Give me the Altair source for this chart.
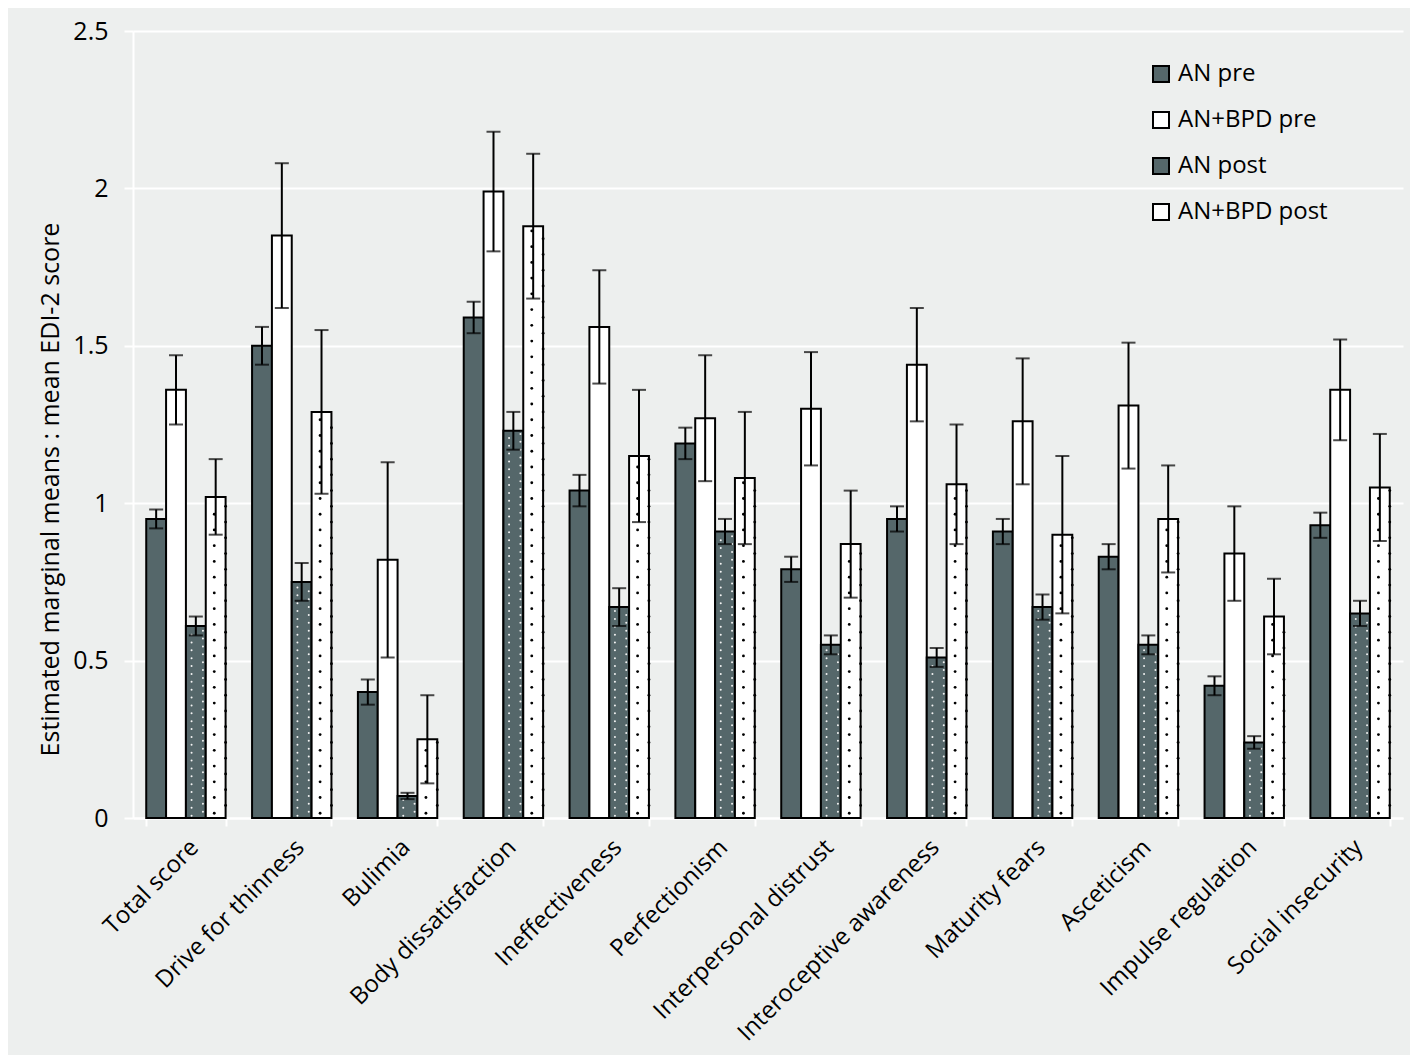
import altair as alt
import pandas as pd

categories = ["Total score", "Drive for thinness", "Bulimia", "Body dissatisfaction",
              "Ineffectiveness", "Perfectionism", "Interpersonal distrust",
              "Interoceptive awareness", "Maturity fears", "Asceticism",
              "Impulse regulation", "Social insecurity"]
series = ["AN pre", "AN+BPD pre", "AN post", "AN+BPD post"]

an_pre = [0.95, 1.50, 0.40, 1.59, 1.04, 1.19, 0.79, 0.95, 0.91, 0.83, 0.42, 0.93]
an_pre_lo = [0.92, 1.44, 0.36, 1.54, 0.99, 1.14, 0.75, 0.91, 0.87, 0.79, 0.39, 0.89]
an_pre_hi = [0.98, 1.56, 0.44, 1.64, 1.09, 1.24, 0.83, 0.99, 0.95, 0.87, 0.45, 0.97]

bpd_pre = [1.36, 1.85, 0.82, 1.99, 1.56, 1.27, 1.30, 1.44, 1.26, 1.31, 0.84, 1.36]
bpd_pre_lo = [1.25, 1.62, 0.51, 1.80, 1.38, 1.07, 1.12, 1.26, 1.06, 1.11, 0.69, 1.20]
bpd_pre_hi = [1.47, 2.08, 1.13, 2.18, 1.74, 1.47, 1.48, 1.62, 1.46, 1.51, 0.99, 1.52]

an_post = [0.61, 0.75, 0.07, 1.23, 0.67, 0.91, 0.55, 0.51, 0.67, 0.55, 0.24, 0.65]
an_post_lo = [0.58, 0.69, 0.06, 1.17, 0.61, 0.87, 0.52, 0.48, 0.63, 0.52, 0.22, 0.61]
an_post_hi = [0.64, 0.81, 0.08, 1.29, 0.73, 0.95, 0.58, 0.54, 0.71, 0.58, 0.26, 0.69]

bpd_post = [1.02, 1.29, 0.25, 1.88, 1.15, 1.08, 0.87, 1.06, 0.90, 0.95, 0.64, 1.05]
bpd_post_lo = [0.90, 1.03, 0.11, 1.65, 0.94, 0.87, 0.70, 0.87, 0.65, 0.78, 0.52, 0.88]
bpd_post_hi = [1.14, 1.55, 0.39, 2.11, 1.36, 1.29, 1.04, 1.25, 1.15, 1.12, 0.76, 1.22]

BG = "#edefee"
DARK = "#55676a"
FONT = "Open Sans"

vals = {"AN pre": (an_pre, an_pre_lo, an_pre_hi),
        "AN+BPD pre": (bpd_pre, bpd_pre_lo, bpd_pre_hi),
        "AN post": (an_post, an_post_lo, an_post_hi),
        "AN+BPD post": (bpd_post, bpd_post_lo, bpd_post_hi)}

rows = []
for s in series:
    m, lo, hi = vals[s]
    for i, c in enumerate(categories):
        rows.append({"category": c, "series": s, "value": m[i], "lo": lo[i], "hi": hi[i]})
df = pd.DataFrame(rows)

# dotted texture for the "post" bars
dots = []
for s, step, color in [("AN post", 0.0125, "w"), ("AN+BPD post", 0.025, "k")]:
    m = vals[s][0]
    for i, c in enumerate(categories):
        k = 0
        while (k + 0.6) * step < m[i] - 0.008:
            dots.append({"category": c, "slot": s + ("_L" if k % 2 == 0 else "_R"),
                         "y": (k + 0.6) * step, "dc": color})
            k += 1
ddf = pd.DataFrame(dots)
slots = [s + suf for s in series for suf in ("_L", "_R")]

x_enc = alt.X("category:N", sort=categories,
              scale=alt.Scale(paddingInner=0.25, paddingOuter=0.125),
              axis=alt.Axis(title=None, labelAngle=-45, labelAlign="right", labelBaseline="top",
                            labelFontSize=24, labelFont=FONT, labelColor="black",
                            labelPadding=9, tickBand="extent", tickColor="white",
                            tickWidth=2, tickSize=8, domainColor="white", domainWidth=2,
                            labelLimit=400))
xoff = alt.XOffset("series:N", sort=series,
                   scale=alt.Scale(domain=series, paddingInner=0, paddingOuter=0))
y_scale = alt.Scale(domain=[0, 2.5], nice=False)

bars = alt.Chart(df).mark_bar(stroke="black", strokeWidth=2).encode(
    x=x_enc,
    xOffset=xoff,
    y=alt.Y("value:Q", scale=y_scale,
            axis=alt.Axis(title="Estimated marginal means : mean EDI-2 score",
                          values=[0, 0.5, 1, 1.5, 2, 2.5], format="~g",
                          labelFontSize=25, labelFont=FONT, labelColor="black",
                          titleFontSize=25, titleFont=FONT, titleFontWeight="normal",
                          titleColor="black", titleX=-70, titleY=458,
                          titleAngle=270, titleAlign="center", titleBaseline="bottom",
                          labelPadding=16, tickColor="white", tickWidth=2, tickSize=9,
                          domainColor="white", domainWidth=2,
                          gridColor="white", gridWidth=2)),
    fill=alt.Fill("series:N", sort=series,
                  scale=alt.Scale(domain=series, range=[DARK, "white", DARK, "white"]),
                  legend=alt.Legend(title=None, orient="none", legendX=1016, legendY=31,
                                    symbolType="square", symbolSize=256,
                                    symbolStrokeColor="black", symbolStrokeWidth=2,
                                    labelFontSize=24, labelFont=FONT, labelColor="black",
                                    rowPadding=22, labelOffset=5, padding=0)),
)

dot_layer = alt.Chart(ddf).mark_circle(opacity=1).encode(
    x=alt.X("category:N", sort=categories),
    xOffset=alt.XOffset("slot:N", scale=alt.Scale(domain=slots, paddingInner=0, paddingOuter=0)),
    y=alt.Y("y:Q", scale=y_scale),
    color=alt.Color("dc:N", scale=alt.Scale(domain=["w", "k"], range=["#f4f4f4", "black"]),
                    legend=None),
    size=alt.Size("dc:N", scale=alt.Scale(domain=["w", "k"], range=[4, 8]), legend=None),
)

rules = alt.Chart(df).mark_rule(color="black", strokeWidth=2).encode(
    x=alt.X("category:N", sort=categories), xOffset=alt.XOffset("series:N", sort=series),
    y=alt.Y("lo:Q", scale=y_scale), y2="hi:Q")
cap_lo = alt.Chart(df).mark_tick(color="black", thickness=2, size=14).encode(
    x=alt.X("category:N", sort=categories), xOffset=alt.XOffset("series:N", sort=series),
    y=alt.Y("lo:Q", scale=y_scale))
cap_hi = alt.Chart(df).mark_tick(color="black", thickness=2, size=14).encode(
    x=alt.X("category:N", sort=categories), xOffset=alt.XOffset("series:N", sort=series),
    y=alt.Y("hi:Q", scale=y_scale))

err = alt.layer(rules, cap_lo, cap_hi)

chart = alt.layer(bars, dot_layer, err).resolve_scale(
    xOffset="independent", color="independent", size="independent"
).properties(
    width=1270, height=787,
    autosize=alt.AutoSizeParams(type="none"),
    padding={"left": 125, "top": 23, "right": 7, "bottom": 237},
    background=BG,
).configure_view(stroke=None, fill=BG).configure_axis(labelFont=FONT)

chart.save("out.html", embed_options={"renderer": "svg", "actions": False})
